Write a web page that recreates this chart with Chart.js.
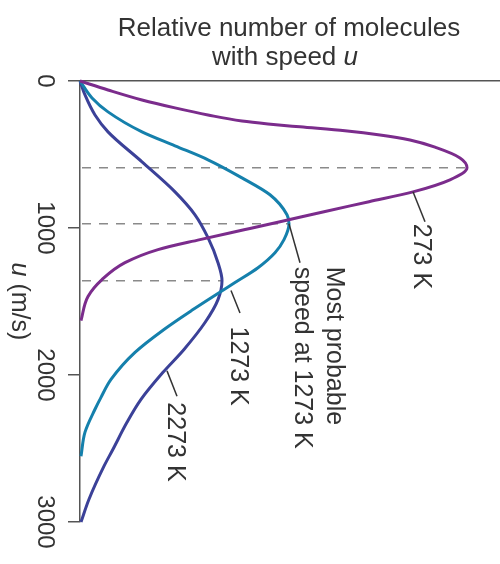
<!DOCTYPE html>
<html>
<head>
<meta charset="utf-8">
<script src="https://cdn.jsdelivr.net/npm/chart.js@4"></script>
<style>
  html, body { margin: 0; padding: 0; background: #fff; }
  #wrap { width: 500px; height: 564px; }
</style>
</head>
<body>
<div id="wrap"><canvas id="c" width="500" height="564"></canvas></div>
<script>
// Maxwell speed distributions: speed u (m/s) and relative number of molecules
const speeds273  = [0, 61, 129, 183, 231, 272, 292, 312, 339, 367, 401, 455, 523, 590, 672, 754, 821, 889, 957, 1012, 1079, 1147, 1236, 1351, 1466, 1630];
const counts273  = [0, 28, 62, 95, 128, 162, 188, 220, 265, 300, 330, 357, 380, 387, 370, 333, 289, 244, 200, 164, 120, 78, 45, 22, 8, 1];

const speeds1273 = [0, 115, 210, 346, 441, 536, 659, 774, 910, 971, 1079, 1168, 1270, 1371, 1432, 1555, 1690, 1846, 2030, 2152, 2233, 2389, 2553];
const counts1273 = [0, 12, 28, 62, 95, 128, 162, 190, 207, 209, 204, 195, 178, 155, 141, 113, 84, 55, 31, 21, 15, 5, 1];

const speeds2273 = [0, 95, 231, 346, 550, 754, 910, 1066, 1236, 1358, 1487, 1643, 1826, 1982, 2166, 2322, 2505, 2620, 2845, 3000];
const counts2273 = [0, 5, 15, 28, 62, 95, 115, 128, 138, 142, 138, 125, 104, 83, 61, 47, 33, 24, 9, 1];

const speedTicks = [0, 1000, 2000, 3000];
const tickLabels = ['0', '1000', '2000', '3000'];
const seriesNames = ['273 K', '1273 K', '2273 K'];

const FONT = '"Liberation Sans", Arial, Helvetica, sans-serif';
const TEXT = '#333333';

function toPoints(us, vs) {
  return us.map((u, i) => ({ x: vs[i], y: u }));
}
function peakOf(us, vs) {
  let k = 0;
  vs.forEach((v, i) => { if (v > vs[k]) k = i; });
  return { u: us[k], v: vs[k] };
}

// Text rotated a quarter turn clockwise, read from top to bottom.
// parts: [{t, italic}], (x, y) = baseline start on screen.
function rotatedText(ctx, parts, x, y, size, align) {
  ctx.save();
  ctx.translate(x, y);
  ctx.rotate(Math.PI / 2);
  ctx.fillStyle = TEXT;
  ctx.textBaseline = 'alphabetic';
  ctx.textAlign = 'left';
  const widths = parts.map(p => {
    ctx.font = (p.italic ? 'italic ' : '') + size + 'px ' + FONT;
    return ctx.measureText(p.t).width;
  });
  const total = widths.reduce((a, b) => a + b, 0);
  let cx = align === 'center' ? -total / 2 : 0;
  parts.forEach((p, i) => {
    ctx.font = (p.italic ? 'italic ' : '') + size + 'px ' + FONT;
    ctx.fillText(p.t, cx, 0);
    cx += widths[i];
  });
  ctx.restore();
}

const peaks = [
  peakOf(speeds273, counts273),
  peakOf(speeds1273, counts1273),
  peakOf(speeds2273, counts2273)
];

// Callouts in data units: v = relative number, u = speed
const callouts = [
  { from: { v: 333, u: 754 }, to: { v: 345, u: 957 }, lines: [[{ t: seriesNames[0] }]], base: { v: 334, u: 971 } },
  { from: { v: peaks[1].v, u: peaks[1].u }, to: { v: 220, u: 1236 },
    lines: [[{ t: 'Most probable' }], [{ t: 'speed at 1273 K' }]], base: { v: 247, u: 1263 }, lineGap: 32 },
  { from: { v: 151, u: 1425 }, to: { v: 160, u: 1578 }, lines: [[{ t: seriesNames[1] }]], base: { v: 151, u: 1670 } },
  { from: { v: 87, u: 1972 }, to: { v: 97, u: 2145 }, lines: [[{ t: seriesNames[2] }]], base: { v: 88, u: 2186 } }
];

const decorations = {
  id: 'decorations',
  beforeDatasetsDraw(chart) {
    const { ctx, scales: { x, y } } = chart;
    // dashed guides from the axis to each curve's maximum
    ctx.save();
    ctx.strokeStyle = '#8a8a8a';
    ctx.lineWidth = 1.5;
    ctx.setLineDash([9, 8]);
    peaks.forEach(p => {
      const py = y.getPixelForValue(p.u);
      ctx.beginPath();
      ctx.moveTo(x.getPixelForValue(0) + 2, py);
      ctx.lineTo(x.getPixelForValue(p.v), py);
      ctx.stroke();
    });
    ctx.restore();
  },
  afterDraw(chart) {
    const { ctx, scales: { x, y } } = chart;

    // title
    ctx.save();
    ctx.fillStyle = TEXT;
    ctx.textBaseline = 'alphabetic';
    ctx.textAlign = 'center';
    ctx.font = '26px ' + FONT;
    ctx.fillText('Relative number of molecules', 289, 36);
    const a = 'with speed ';
    const wa = ctx.measureText(a).width;
    ctx.font = 'italic 26px ' + FONT;
    const wb = ctx.measureText('u').width;
    const start = 285 - (wa + wb) / 2;
    ctx.textAlign = 'left';
    ctx.font = '26px ' + FONT;
    ctx.fillText(a, start, 65);
    ctx.font = 'italic 26px ' + FONT;
    ctx.fillText('u', start + wa, 65);
    ctx.restore();

    // speed tick labels
    speedTicks.forEach((t, i) => {
      rotatedText(ctx, [{ t: tickLabels[i] }], 38, y.getPixelForValue(t), 24, 'center');
    });

    // speed axis title
    rotatedText(ctx, [{ t: 'u', italic: true }, { t: ' (m/s)' }], 12,
      (y.top + y.bottom) / 2, 25, 'center');

    // callouts
    ctx.save();
    ctx.strokeStyle = '#333';
    ctx.lineWidth = 1.5;
    callouts.forEach(c => {
      ctx.beginPath();
      ctx.moveTo(x.getPixelForValue(c.from.v), y.getPixelForValue(c.from.u));
      ctx.lineTo(x.getPixelForValue(c.to.v), y.getPixelForValue(c.to.u));
      ctx.stroke();
    });
    ctx.restore();
    callouts.forEach(c => {
      const bx = x.getPixelForValue(c.base.v);
      const by = y.getPixelForValue(c.base.u);
      c.lines.forEach((parts, i) => {
        rotatedText(ctx, parts, bx - i * (c.lineGap || 0), by, 25, 'left');
      });
    });
  }
};

new Chart(document.getElementById('c'), {
  type: 'line',
  data: {
    datasets: [
      { label: seriesNames[0], data: toPoints(speeds273, counts273), borderColor: '#7b2c8c' },
      { label: seriesNames[1], data: toPoints(speeds1273, counts1273), borderColor: '#1580ac' },
      { label: seriesNames[2], data: toPoints(speeds2273, counts2273), borderColor: '#3b4198' }
    ].map(d => Object.assign(d, {
      pointRadius: 0, borderWidth: 3, cubicInterpolationMode: 'monotone', clip: false, fill: false
    }))
  },
  options: {
    indexAxis: 'y',
    responsive: false,
    animation: false,
    layout: { padding: { left: 68, top: 81, right: 0, bottom: 42 } },
    plugins: { legend: { display: false }, tooltip: { enabled: false }, title: { display: false } },
    scales: {
      x: {
        type: 'linear', position: 'top', min: 0, max: 420,
        ticks: { display: false },
        grid: { display: true, drawOnChartArea: false, drawTicks: false },
        border: { display: true, color: '#555', width: 1.5 }
      },
      y: {
        type: 'linear', position: 'left', min: 0, max: 3000, reverse: true,
        afterBuildTicks: s => { s.ticks = speedTicks.map(v => ({ value: v })); },
        ticks: { display: false },
        grid: { display: true, drawOnChartArea: false, drawTicks: true, tickLength: 12, color: '#555', lineWidth: 1.5 },
        border: { display: true, color: '#555', width: 1.5 }
      }
    }
  },
  plugins: [decorations]
});
</script>
</body>
</html>
